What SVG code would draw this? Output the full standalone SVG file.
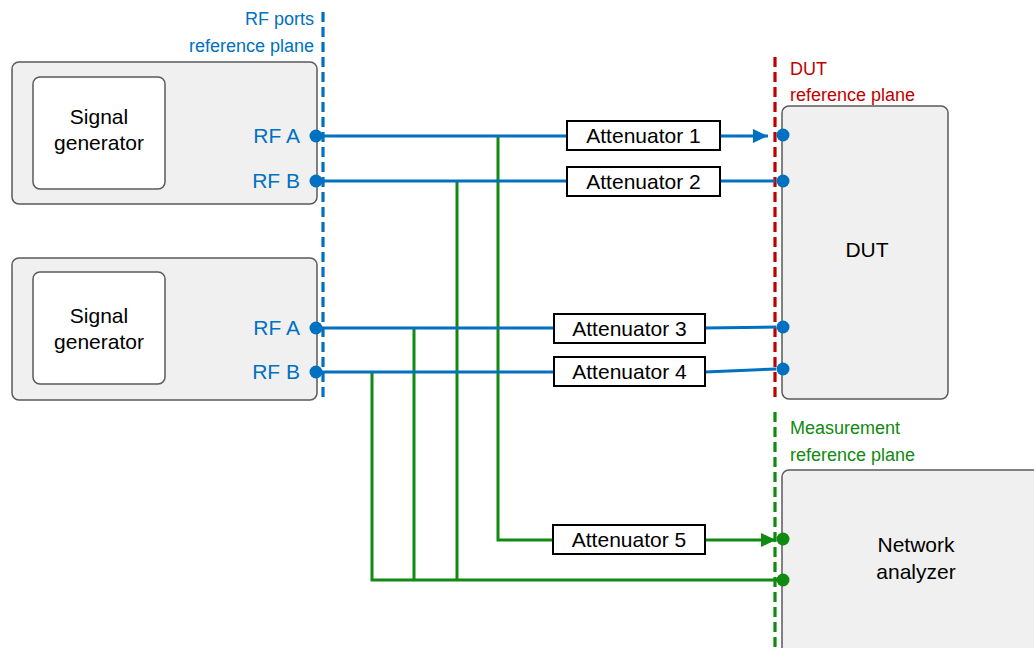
<svg xmlns="http://www.w3.org/2000/svg" width="1034" height="648" viewBox="0 0 1034 648">
  <style>
    .panel { fill: #f0f0f0; stroke: #5a5a5a; stroke-width: 1.5; }
    .inner { fill: #ffffff; stroke: #5a5a5a; stroke-width: 1.5; }
    .att { fill: #ffffff; stroke: #000000; stroke-width: 2; }
    .lbl { font-family: "Liberation Sans", Arial, sans-serif; font-size: 21px; fill: #000000; }
    .port { font-family: "Liberation Sans", Arial, sans-serif; font-size: 21px; fill: #0070c0; }
    .plane { font-family: "Liberation Sans", Arial, sans-serif; font-size: 18px; }
    .blue { stroke: #0070c0; stroke-width: 3; fill: none; }
    .green { stroke: #108a10; stroke-width: 3; fill: none; }
    .dash { stroke-width: 3.2; stroke-dasharray: 10 5; fill: none; }
    .bdot { fill: #0070c0; }
    .gdot { fill: #108a10; }
  </style>
  <defs>
    <marker id="arrowBlue" viewBox="0 0 15 14" refX="15" refY="7" markerWidth="15" markerHeight="14" markerUnits="userSpaceOnUse" orient="auto">
      <path d="M0,0 L15,7 L0,14 z" fill="#0070c0"/>
    </marker>
    <marker id="arrowGreen" viewBox="0 0 15 14" refX="15" refY="7" markerWidth="15" markerHeight="14" markerUnits="userSpaceOnUse" orient="auto">
      <path d="M0,0 L15,7 L0,14 z" fill="#108a10"/>
    </marker>
  </defs>

  <!-- reference planes -->
  <g id="planes">
    <line class="dash" x1="323" y1="12" x2="323" y2="402" stroke="#0070c0"/>
    <text class="plane" x="314" y="25" text-anchor="end" fill="#0070c0">RF ports</text>
    <text class="plane" x="314" y="52" text-anchor="end" fill="#0070c0">reference plane</text>

    <line class="dash" x1="775" y1="57" x2="775" y2="402" stroke="#c00000"/>
    <text class="plane" x="790" y="75" fill="#c00000">DUT</text>
    <text class="plane" x="790" y="101" fill="#c00000">reference plane</text>

    <line class="dash" x1="775" y1="412" x2="775" y2="648" stroke="#108a10"/>
    <text class="plane" x="790" y="434" fill="#108a10">Measurement</text>
    <text class="plane" x="790" y="461" fill="#108a10">reference plane</text>
  </g>

  <!-- connectors -->
  <g id="connectors">
    <!-- green monitoring taps -->
    <polyline class="green" points="498,136 498,540 553,540"/>
    <line class="green" x1="705" y1="540" x2="776" y2="540" marker-end="url(#arrowGreen)"/>
    <line class="green" x1="457" y1="181" x2="457" y2="580"/>
    <line class="green" x1="414" y1="328" x2="414" y2="580"/>
    <polyline class="green" points="372,372 372,580 783,580"/>

    <!-- blue RF paths -->
    <line class="blue" x1="316" y1="136" x2="567" y2="136"/>
    <line class="blue" x1="720" y1="136" x2="768" y2="136" marker-end="url(#arrowBlue)"/>
    <line class="blue" x1="316" y1="181" x2="567" y2="181"/>
    <line class="blue" x1="720" y1="181" x2="775" y2="181"/>
    <line class="blue" x1="316" y1="328" x2="554" y2="328"/>
    <line class="blue" x1="705" y1="328" x2="776" y2="327"/>
    <line class="blue" x1="316" y1="372" x2="554" y2="372"/>
    <line class="blue" x1="705" y1="372" x2="776" y2="369"/>
  </g>

  <!-- signal generator 1 -->
  <g id="siggen1">
    <rect class="panel" x="12" y="62" width="305" height="142" rx="7"/>
    <rect class="inner" x="33" y="77" width="132" height="112" rx="7"/>
    <text class="lbl" x="99" y="124" text-anchor="middle">Signal</text>
    <text class="lbl" x="99" y="150" text-anchor="middle">generator</text>
    <text class="port" x="300" y="143" text-anchor="end">RF A</text>
    <text class="port" x="300" y="188" text-anchor="end">RF B</text>
    <circle class="bdot" cx="316" cy="136" r="6.5"/>
    <circle class="bdot" cx="316" cy="181" r="6.5"/>
  </g>

  <!-- signal generator 2 -->
  <g id="siggen2">
    <rect class="panel" x="12" y="258" width="305" height="142" rx="7"/>
    <rect class="inner" x="33" y="272" width="132" height="112" rx="7"/>
    <text class="lbl" x="99" y="323" text-anchor="middle">Signal</text>
    <text class="lbl" x="99" y="349" text-anchor="middle">generator</text>
    <text class="port" x="300" y="335" text-anchor="end">RF A</text>
    <text class="port" x="300" y="379" text-anchor="end">RF B</text>
    <circle class="bdot" cx="316" cy="328" r="6.5"/>
    <circle class="bdot" cx="316" cy="372" r="6.5"/>
  </g>

  <!-- attenuators -->
  <g id="att1">
    <rect class="att" x="567" y="121" width="153" height="29"/>
    <text class="lbl" x="643.5" y="143" text-anchor="middle">Attenuator 1</text>
  </g>
  <g id="att2">
    <rect class="att" x="567" y="167" width="153" height="29"/>
    <text class="lbl" x="643.5" y="189" text-anchor="middle">Attenuator 2</text>
  </g>
  <g id="att3">
    <rect class="att" x="554" y="314" width="151" height="29"/>
    <text class="lbl" x="629.5" y="336" text-anchor="middle">Attenuator 3</text>
  </g>
  <g id="att4">
    <rect class="att" x="554" y="357" width="151" height="29"/>
    <text class="lbl" x="629.5" y="379" text-anchor="middle">Attenuator 4</text>
  </g>
  <g id="att5">
    <rect class="att" x="553" y="525" width="152" height="29"/>
    <text class="lbl" x="629" y="547" text-anchor="middle">Attenuator 5</text>
  </g>

  <!-- device under test -->
  <g id="dut">
    <rect class="panel" x="782" y="106" width="166" height="293" rx="7"/>
    <text class="lbl" x="867" y="257" text-anchor="middle">DUT</text>
    <circle class="bdot" cx="783" cy="135" r="6.5"/>
    <circle class="bdot" cx="783" cy="181" r="6.5"/>
    <circle class="bdot" cx="783" cy="327" r="6.5"/>
    <circle class="bdot" cx="783" cy="369" r="6.5"/>
  </g>

  <!-- network analyzer -->
  <g id="vna">
    <rect class="panel" x="782" y="470" width="270" height="200" rx="7"/>
    <text class="lbl" x="916" y="552" text-anchor="middle">Network</text>
    <text class="lbl" x="916" y="579" text-anchor="middle">analyzer</text>
    <circle class="gdot" cx="783" cy="539" r="6.5"/>
    <circle class="gdot" cx="783" cy="580" r="6.5"/>
  </g>
</svg>
